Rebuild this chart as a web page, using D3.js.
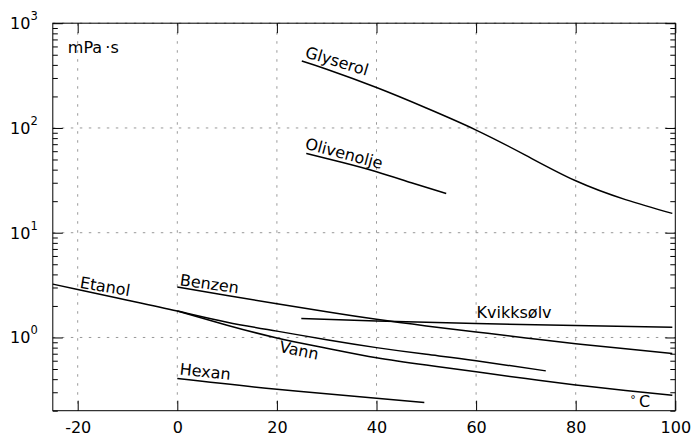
<!DOCTYPE html>
<html>
<head>
<meta charset="utf-8">
<script src="https://cdn.jsdelivr.net/npm/d3@7/dist/d3.min.js"></script>
<style>
  body { margin: 0; background: #fff; }
  svg { display: block; font-family: "DejaVu Sans", sans-serif; }
  .grid line { stroke: #999; stroke-dasharray: 2.5,6.5; }
  .curve { fill: none; stroke: #000; stroke-width: 1.5; }
  .axis path { stroke: none; }
  .axis line { stroke: #000; }
</style>
</head>
<body>
<script>
// viskositet (mPa·s) mot temperatur (°C)
var glyserolT = [25, 30, 40, 50, 60, 70, 80, 90, 99.4];
var glyserolV = [435, 363, 243, 155, 95.5, 54.7, 31.3, 20.7, 15.3];

var olivenT = [25.9, 33, 40, 47, 54];
var olivenV = [57.2, 47, 38.2, 30, 23.7];

var etanolT = [-25, -20, -10, 0, 10, 20, 30, 40, 50, 60, 74];
var etanolV = [3.23, 2.87, 2.27, 1.79, 1.40, 1.15, 0.95, 0.80, 0.69, 0.60, 0.48];

var vannT = [0, 10, 20, 30, 40, 50, 60, 70, 80, 90, 99.4];
var vannV = [1.79, 1.31, 0.99, 0.79, 0.64, 0.545, 0.47, 0.405, 0.352, 0.312, 0.281];

var benzenT = [0, 10, 20, 30, 40, 50, 60, 70, 80, 90, 99.4];
var benzenV = [3.03, 2.52, 2.1, 1.76, 1.49, 1.29, 1.13, 0.99, 0.87, 0.78, 0.705];

var kvikkT = [24.9, 40, 60, 80, 99.4];
var kvikkV = [1.52, 1.44, 1.36, 1.30, 1.25];

var hexanT = [0, 20, 40, 49.6];
var hexanV = [0.405, 0.32, 0.263, 0.239];

// etiketter: navn, temperatur, viskositet, vinkel
var labelNames = ["Glyserol", "Olivenolje", "Etanol", "Benzen", "Hexan", "Vann", "Kvikksølv"];
var labelT = [25.5, 25.5, -19.7, 0.4, 0.4, 20.3, 60.1];
var labelV = [477, 63.7, 2.98, 3.16, 0.443, 0.729, 1.52];
var labelAngle = [17, 15, 9.5, 8, 6, 11.5, 0];

var xTicks = [-20, 0, 20, 40, 60, 80, 100];
var yDecades = [1, 10, 100, 1000];
var yExp = ["0", "1", "2", "3"];

var svgWidth = 694, svgHeight = 437;
var margin = {top: 23.2, right: 18.7, bottom: 26.3, left: 52.8};
var width = svgWidth - margin.left - margin.right,
    height = svgHeight - margin.top - margin.bottom;

var svg = d3.select("body").append("svg")
    .attr("width", svgWidth)
    .attr("height", svgHeight);

var g = svg.append("g")
    .attr("transform", "translate(" + margin.left + "," + margin.top + ")");

var xScale = d3.scaleLinear().domain([-25, 100]).range([0, width]);
var yScale = d3.scaleLog().domain([0.2, 1000]).range([height, 0]);

// minor ticks
var minorTicks = [];
[0.1, 1, 10, 100].forEach(function(dec) {
  for (var k = 2; k <= 9; k++) {
    var v = k * dec;
    if (v >= 0.2 && v < 1000) minorTicks.push(v);
  }
});

// grid
var grid = g.append("g").attr("class", "grid");
grid.selectAll("line.v")
    .data(xTicks.filter(function(d){ return d < 100; }))
    .enter().append("line")
    .attr("x1", function(d){ return xScale(d); })
    .attr("x2", function(d){ return xScale(d); })
    .attr("y1", 0).attr("y2", height);
grid.selectAll("line.h")
    .data(yDecades)
    .enter().append("line")
    .attr("x1", 0).attr("x2", width)
    .attr("y1", function(d){ return yScale(d); })
    .attr("y2", function(d){ return yScale(d); });

// frame
g.append("rect")
    .attr("width", width).attr("height", height)
    .attr("fill", "none").attr("stroke", "#000").attr("stroke-width", 1);

// axes (ticks pointing inward)
g.append("g").attr("class", "axis")
    .attr("transform", "translate(0," + height + ")")
    .call(d3.axisBottom(xScale).tickValues(xTicks).tickSize(-10).tickPadding(11)
      .tickFormat(function(d){ return d; }))
    .selectAll("text")
    .attr("font-size", "16px")
    .attr("font-family", "DejaVu Sans")
    .attr("fill", "#000");

g.append("g").attr("class", "axis")
    .call(d3.axisTop(xScale).tickValues(xTicks).tickSize(-10).tickFormat(""));

g.append("g").attr("class", "axis")
    .call(d3.axisLeft(yScale).tickValues(yDecades).tickSize(-10).tickFormat(""));
g.append("g").attr("class", "axis")
    .call(d3.axisLeft(yScale).tickValues(minorTicks).tickSize(-5).tickFormat(""));
g.append("g").attr("class", "axis")
    .attr("transform", "translate(" + width + ",0)")
    .call(d3.axisRight(yScale).tickValues(yDecades).tickSize(-10).tickFormat(""));
g.append("g").attr("class", "axis")
    .attr("transform", "translate(" + width + ",0)")
    .call(d3.axisRight(yScale).tickValues(minorTicks).tickSize(-5).tickFormat(""));

// y labels 10^n
var yLab = g.selectAll("text.ylab")
    .data(yDecades)
    .enter().append("text")
    .attr("class", "ylab")
    .attr("x", -15)
    .attr("y", function(d){ return yScale(d) + 6; })
    .attr("text-anchor", "end")
    .attr("font-size", "16px");
yLab.append("tspan").text("10");
yLab.append("tspan")
    .attr("dy", -9)
    .attr("font-size", "11.5px")
    .text(function(d, i){ return yExp[i]; });

// curves
var series = [
  [glyserolT, glyserolV],
  [olivenT, olivenV],
  [etanolT, etanolV],
  [vannT, vannV],
  [benzenT, benzenV],
  [kvikkT, kvikkV],
  [hexanT, hexanV]
];
var line = d3.line()
    .x(function(d){ return xScale(d[0]); })
    .y(function(d){ return yScale(d[1]); })
    .curve(d3.curveNatural);

g.selectAll("path.curve")
    .data(series)
    .enter().append("path")
    .attr("class", "curve")
    .attr("d", function(s){ return line(d3.zip(s[0], s[1])); });

// labels
g.selectAll("text.lbl")
    .data(labelNames)
    .enter().append("text")
    .attr("class", "lbl")
    .attr("font-size", "16px")
    .attr("transform", function(d, i){
      return "translate(" + xScale(labelT[i]) + "," + yScale(labelV[i]) + ") rotate(" + labelAngle[i] + ")";
    })
    .text(function(d){ return d; });

// units
g.append("text")
    .attr("x", 15).attr("y", 30)
    .attr("font-size", "16px")
    .text("mPa\u2009·s");

var unitC = g.append("text")
    .attr("x", width - 45).attr("y", height - 4)
    .attr("font-size", "16px");
unitC.append("tspan").attr("font-size", "11px").attr("dy", -4).text("°");
unitC.append("tspan").attr("dy", 4).text("\u2009C");
</script>
</body>
</html>
